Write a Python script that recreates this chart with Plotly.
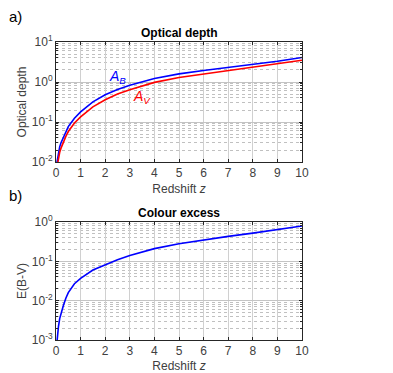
import plotly.graph_objects as go
from plotly.subplots import make_subplots

# Data
z_a = [0.04, 0.06, 0.08, 0.1, 0.15, 0.2, 0.3, 0.4, 0.5, 0.75, 1, 1.5, 2, 2.5, 3, 4, 5, 6, 7, 8, 9, 10]
A_B = [0.010, 0.0125, 0.015, 0.018, 0.024, 0.030, 0.042, 0.058, 0.077, 0.125, 0.18, 0.32, 0.48, 0.65, 0.83, 1.22, 1.6, 1.95, 2.3, 2.75, 3.3, 4.1]
A_V = [0.0075, 0.009, 0.011, 0.013, 0.0175, 0.022, 0.032, 0.044, 0.058, 0.095, 0.135, 0.24, 0.36, 0.50, 0.64, 0.98, 1.3, 1.58, 1.88, 2.3, 2.8, 3.5]

z_b = [0.04, 0.06, 0.08, 0.1, 0.15, 0.2, 0.3, 0.4, 0.5, 0.75, 1, 1.5, 2, 2.5, 3, 4, 5, 6, 7, 8, 9, 10]
EBV = [0.0009, 0.0013, 0.0017, 0.0022, 0.0035, 0.0048, 0.0075, 0.0115, 0.016, 0.027, 0.037, 0.060, 0.083, 0.11, 0.14, 0.21, 0.28, 0.35, 0.43, 0.52, 0.64, 0.79]

x_ticks = list(range(0, 11))
ya_ticks = [0.01, 0.1, 1, 10]
ya_text = ["10<sup>-2</sup>", "10<sup>-1</sup>", "10<sup>0</sup>", "10<sup>1</sup>"]
yb_ticks = [0.001, 0.01, 0.1, 1]
yb_text = ["10<sup>-3</sup>", "10<sup>-2</sup>", "10<sup>-1</sup>", "10<sup>0</sup>"]

FONT = "Liberation Sans, Arial, sans-serif"
AX = "#262626"
TXT = "#404040"

def minor_vals(lo, hi):
    vals = []
    d = lo
    while d < hi:
        for m in range(2, 10):
            vals.append(m * d)
        d *= 10
    return vals

fig = make_subplots(rows=2, cols=1, vertical_spacing=0.0)

fig.add_trace(go.Scatter(x=z_a, y=A_B, mode="lines", line=dict(color="#0000ff", width=1.6), showlegend=False), row=1, col=1)
fig.add_trace(go.Scatter(x=z_a, y=A_V, mode="lines", line=dict(color="#ff0000", width=1.6), showlegend=False), row=1, col=1)
fig.add_trace(go.Scatter(x=z_b, y=EBV, mode="lines", line=dict(color="#0000ff", width=1.6), showlegend=False), row=2, col=1)

xcommon = dict(range=[0, 10], tickvals=x_ticks, ticks="inside", ticklen=3, tickcolor=AX,
               showline=True, linecolor=AX, linewidth=1, mirror="ticks", automargin=False,
               showgrid=True, gridcolor="#d0d0d0", gridwidth=1, zeroline=False,
               tickfont=dict(family=FONT, size=12, color=TXT),
               title=dict(text="Redshift <i>z</i>", font=dict(family=FONT, size=12, color=TXT), standoff=5))

fig.update_xaxes(**xcommon, domain=[0, 1], row=1, col=1)
fig.update_xaxes(**xcommon, domain=[0, 1], row=2, col=1)

ycommon = dict(type="log", ticks="inside", ticklen=3, tickcolor=AX,
               showline=True, linecolor=AX, linewidth=1, mirror="ticks", automargin=False,
               showgrid=True, gridcolor="#c4c4c4", gridwidth=1, zeroline=False,
               tickfont=dict(family=FONT, size=12, color=TXT))

fig.update_yaxes(**ycommon, range=[-2, 1], tickvals=ya_ticks, ticktext=ya_text,
                 minor=dict(tickvals=minor_vals(0.01, 10), ticks="inside", ticklen=2, tickcolor=AX,
                            showgrid=True, gridcolor="#c0c0c0", griddash="dot", gridwidth=1),
                 title=dict(text="Optical depth", font=dict(family=FONT, size=12, color=TXT), standoff=2),
                 domain=[0.597, 1.0], row=1, col=1)
fig.update_yaxes(**ycommon, range=[-3, 0], tickvals=yb_ticks, ticktext=yb_text,
                 minor=dict(tickvals=minor_vals(0.001, 1), ticks="inside", ticklen=2, tickcolor=AX,
                            showgrid=True, gridcolor="#c0c0c0", griddash="dot", gridwidth=1),
                 title=dict(text="E(B-V)", font=dict(family=FONT, size=12, color=TXT), standoff=2),
                 domain=[0.0, 0.396], row=2, col=1)

annos = [
    dict(text="<b>Optical depth</b>", xref="paper", yref="paper", x=0.5, y=1.0, yanchor="bottom", xanchor="center",
         showarrow=False, font=dict(family=FONT, size=12, color="black"), yshift=0),
    dict(text="<b>Colour excess</b>", xref="paper", yref="paper", x=0.5, y=0.396, yanchor="bottom", xanchor="center",
         showarrow=False, font=dict(family=FONT, size=12, color="black"), yshift=0),
    dict(text="a)", xref="paper", yref="paper", x=-0.2, y=1.085, xanchor="left", yanchor="middle",
         showarrow=False, font=dict(family=FONT, size=15, color="black")),
    dict(text="b)", xref="paper", yref="paper", x=-0.2, y=0.485, xanchor="left", yanchor="middle",
         showarrow=False, font=dict(family=FONT, size=15, color="black")),
    dict(text="<i>A<sub>B</sub></i>", xref="x", yref="y", x=2.5, y=0.12, showarrow=False,
         font=dict(family=FONT, size=14, color="#0000ff")),
    dict(text="<i>A<sub>V</sub></i>", xref="x", yref="y", x=3.5, y=-0.38, showarrow=False,
         font=dict(family=FONT, size=14, color="#ff0000")),
]
fig.update_layout(annotations=annos, width=393, height=373,
                  margin=dict(l=56, r=91, t=42, b=33),
                  paper_bgcolor="white", plot_bgcolor="white")

fig.write_html("out.html", config={"displayModeBar": False},
               post_script="document.body.style.margin='0';")
